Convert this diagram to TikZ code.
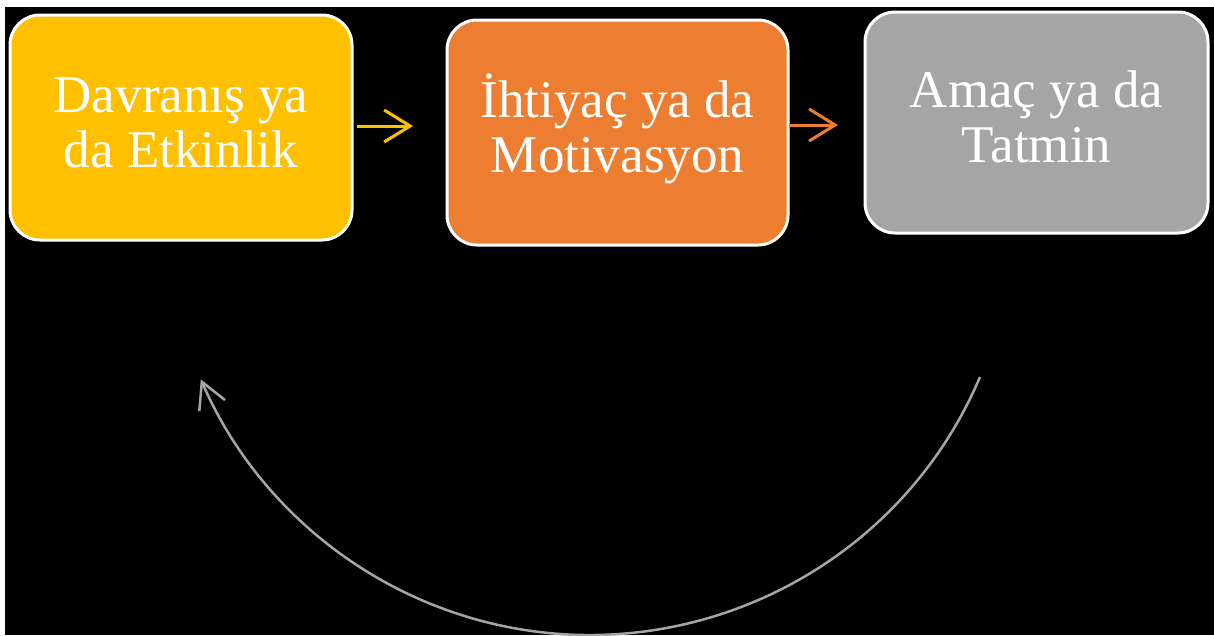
\documentclass[tikz,border=0pt]{standalone}
\usepackage{fontspec}
\setmainfont{Liberation Serif}
\usetikzlibrary{arrows.meta}
\definecolor{cyellow}{HTML}{FFC000}
\definecolor{corange}{HTML}{ED7D31}
\definecolor{cgray}{HTML}{A5A5A5}
\begin{document}
\begin{tikzpicture}[x=1pt,y=-1pt,
  box/.style={draw=white,line width=3pt,rounded corners=30pt,align=center,
    text=white,font=\fontsize{53pt}{55pt}\selectfont,inner sep=0pt,
    text height=91pt,text depth=12pt},
  flowarrow/.style={line width=3pt,-{Straight Barb[length=26pt,width=32pt]}},
  cyclearrow/.style={draw=cgray,line width=2.5pt,-{Straight Barb[length=26pt,width=28pt]}}]
\useasboundingbox (0,0) rectangle (1214,635);
\fill[white] (0,0) rectangle (1214,635);
\fill[black] (5,7) rectangle (1214,635);
\node[box,fill=cyellow,minimum width=342pt,minimum height=225pt] (b1) at (181,127.5) {Davranış ya\\da Etkinlik};
\node[box,fill=corange,minimum width=341pt,minimum height=225pt] (b2) at (617.5,132.5) {İhtiyaç ya da\\Motivasyon};
\node[box,fill=cgray,minimum width=343pt,minimum height=221pt] (b3) at (1036.5,122.5) {Amaç ya da\\Tatmin};
\coordinate (a1s) at (357,126);
\coordinate (a1e) at (413,126);
\coordinate (a2s) at (789,125);
\coordinate (a2e) at (838,125);
\draw[flowarrow,draw=cyellow] (a1s) -- (a1e);
\draw[flowarrow,draw=corange] (a2s) -- (a2e);
\coordinate (cs) at (980,377);
\draw[cyclearrow] (cs) arc[start angle=-23.06,end angle=-156.6,radius=424pt];
\end{tikzpicture}
\end{document}
